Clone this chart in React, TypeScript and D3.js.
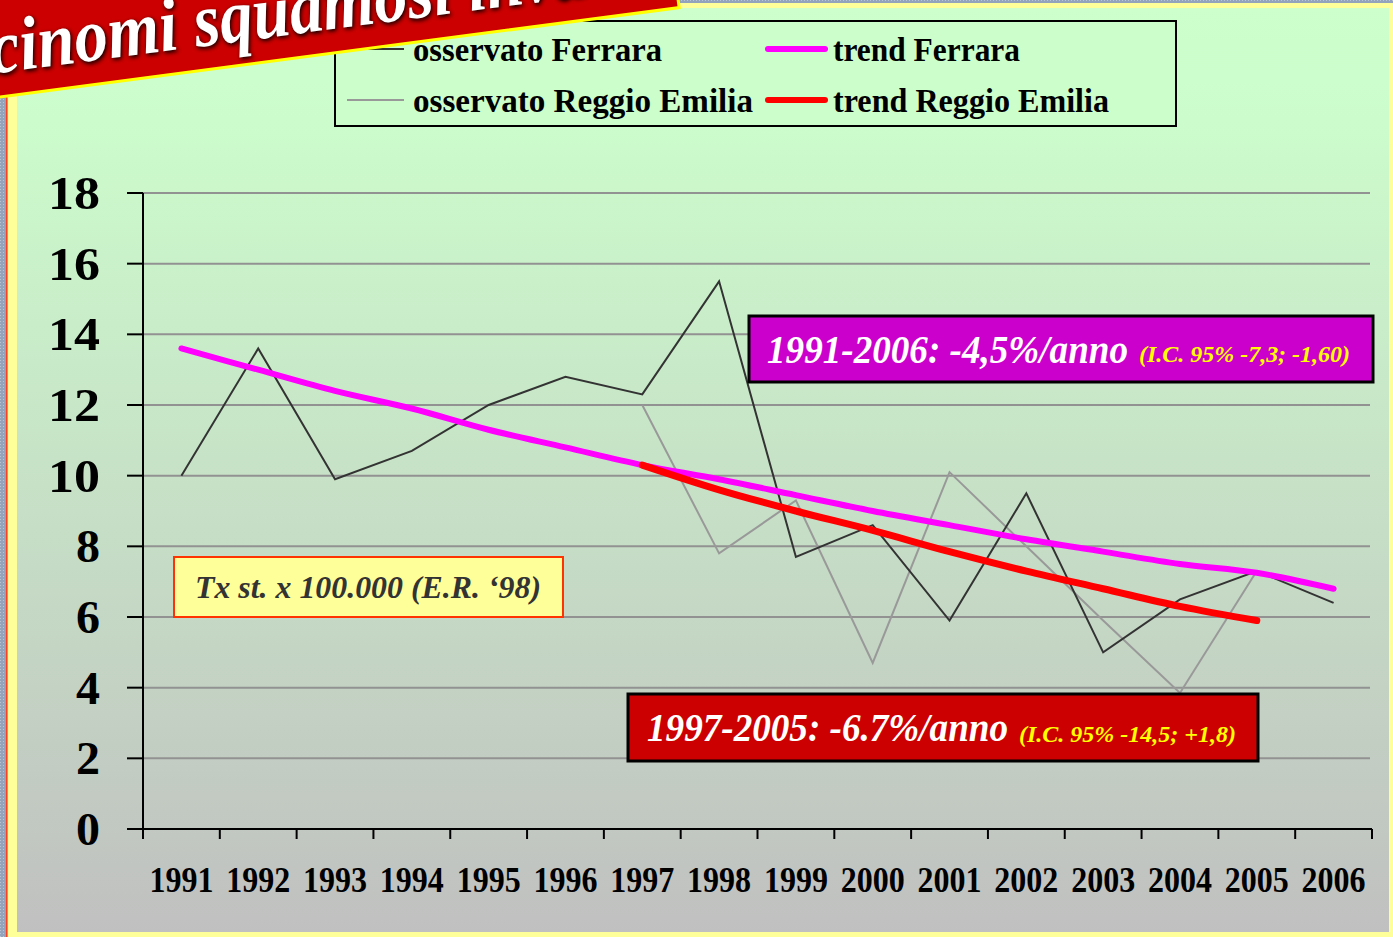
import React from 'react';
import * as d3 from 'd3';

const years = ['1991','1992','1993','1994','1995','1996','1997','1998','1999','2000','2001','2002','2003','2004','2005','2006'];
const ferraraObs = [10.0, 13.6, 9.9, 10.7, 12.0, 12.8, 12.3, 15.5, 7.7, 8.6, 5.9, 9.5, 5.0, 6.5, 7.3, 6.4];
const reggioYears = ['1997','1998','1999','2000','2001','2002','2003','2004','2005'];
const reggioObs = [12.0, 7.8, 9.3, 4.7, 10.1, 8.0, 5.9, 3.85, 7.3];
const trendFerrara = [13.6, 13.0, 12.4, 11.9, 11.3, 10.8, 10.3, 9.9, 9.45, 9.0, 8.6, 8.2, 7.85, 7.5, 7.25, 6.8];
const trendReggio = [10.3, 9.6, 9.0, 8.45, 7.85, 7.3, 6.8, 6.3, 5.9];
const yTicks = [0, 2, 4, 6, 8, 10, 12, 14, 16, 18];
const gridTicks = [2, 4, 6, 8, 10, 12, 14, 16, 18];

const legendItems = [
  { label: 'osservato Ferrara', color: '#333333', width: 2, col: 0, row: 0, len: 249 },
  { label: 'trend Ferrara', color: '#FF00FF', width: 6, col: 1, row: 0, len: 187 },
  { label: 'osservato Reggio Emilia', color: '#999999', width: 2, col: 0, row: 1, len: 340 },
  { label: 'trend Reggio Emilia', color: '#FF0000', width: 6, col: 1, row: 1, len: 276 },
];

const titleText = 'cinomi squamosi inva';

const W = 1393, H = 937;
const FONT = '"Liberation Serif", "Times New Roman", serif';

export default function App() {
  const x = d3.scaleBand<string>().domain(years).range([143, 1372]).paddingInner(0).paddingOuter(0);
  const y = d3.scaleLinear().domain([0, 18]).range([829, 193]);
  const cx = (yr: string) => (x(yr) as number) + x.bandwidth() / 2;

  const lineStraight = d3.line<[string, number]>().x(d => cx(d[0])).y(d => y(d[1]));
  const lineSmooth = d3.line<[string, number]>().x(d => cx(d[0])).y(d => y(d[1])).curve(d3.curveCatmullRom.alpha(0.5));

  const ferObsPts = years.map((yr, i) => [yr, ferraraObs[i]] as [string, number]);
  const regObsPts = reggioYears.map((yr, i) => [yr, reggioObs[i]] as [string, number]);
  const ferTrPts = years.map((yr, i) => [yr, trendFerrara[i]] as [string, number]);
  const regTrPts = reggioYears.map((yr, i) => [yr, trendReggio[i]] as [string, number]);

  const boundaries = [...years.map(yr => x(yr) as number), 1372];

  return (
    <svg width={W} height={H} style={{ position: 'absolute', left: 0, top: 0 }} xmlns="http://www.w3.org/2000/svg">
      <defs>
        <linearGradient id="panelGrad" x1="0" y1="0" x2="0" y2="1">
          <stop offset="0" stopColor="#CCFFCC" />
          <stop offset="0.12" stopColor="#CCFCCC" />
          <stop offset="1" stopColor="#C0C0C0" />
        </linearGradient>
        <pattern id="dots" width="3" height="3" patternUnits="userSpaceOnUse">
          <rect width="3" height="3" fill="#93A3BB" />
          <rect width="1" height="1" fill="#B8C4D4" />
        </pattern>
        <filter id="shadow" x="-10%" y="-30%" width="120%" height="160%">
          <feGaussianBlur stdDeviation="2.2" />
        </filter>
      </defs>

      {/* outer frame */}
      <rect x={0} y={0} width={W} height={H} fill="#FFFF99" />
      <rect x={0} y={0} width={6} height={H} fill="url(#dots)" />
      <rect x={0} y={0} width={W} height={3} fill="url(#dots)" />
      <line x1={6.8} y1={3} x2={6.8} y2={H} stroke="#FF4020" strokeWidth={1.6} />
      <rect x={17} y={8} width={1372} height={924} fill="url(#panelGrad)" />

      {/* gridlines */}
      {gridTicks.map(t => (
        <line key={'g' + t} x1={143} x2={1370} y1={y(t)} y2={y(t)} stroke="#929292" strokeWidth={2} />
      ))}

      {/* axes */}
      <line x1={143} x2={143} y1={y(18)} y2={y(0) + 1} stroke="#000" strokeWidth={2} />
      {yTicks.map(t => (
        <line key={'yt' + t} x1={127} x2={143} y1={y(t)} y2={y(t)} stroke="#000" strokeWidth={2} />
      ))}
      <line x1={127} x2={1372} y1={y(0)} y2={y(0)} stroke="#000" strokeWidth={2} />
      {boundaries.map((b, i) => (
        <line key={'xt' + i} x1={b} x2={b} y1={y(0)} y2={y(0) + 10} stroke="#000" strokeWidth={2} />
      ))}

      {/* y labels */}
      {yTicks.map(t => {
        const s = String(t);
        return (
          <text key={'yl' + t} x={100 - (s.length === 2 ? 52 : 24)} y={y(t) + 16} fontFamily={FONT} fontWeight="bold" fontSize={47} fill="#000"
            textLength={s.length === 2 ? 52 : 24} lengthAdjust="spacingAndGlyphs">
            {s}
          </text>
        );
      })}

      {/* x labels */}
      {years.map(yr => (
        <text key={'xl' + yr} x={cx(yr) - 32} y={892} fontFamily={FONT} fontWeight="bold" fontSize={35} fill="#000"
          textLength={64} lengthAdjust="spacingAndGlyphs">
          {yr}
        </text>
      ))}

      {/* series */}
      <path d={lineStraight(regObsPts) || ''} fill="none" stroke="#999999" strokeWidth={2} />
      <path d={lineStraight(ferObsPts) || ''} fill="none" stroke="#333333" strokeWidth={2} />
      <path d={lineSmooth(ferTrPts) || ''} fill="none" stroke="#FF00FF" strokeWidth={6} strokeLinecap="round" />
      <path d={lineSmooth(regTrPts) || ''} fill="none" stroke="#FF0000" strokeWidth={7} strokeLinecap="round" />

      {/* magenta annotation */}
      <rect x={749} y={316} width={624} height={66} fill="#CC00CC" stroke="#000" strokeWidth={3} />
      <text x={767} y={363} fontFamily={FONT} fontWeight="bold" fontStyle="italic" fontSize={39} fill="#FFFFFF"
        textLength={361} lengthAdjust="spacingAndGlyphs">1991-2006: -4,5%/anno</text>
      <text x={1139} y={362} fontFamily={FONT} fontWeight="bold" fontStyle="italic" fontSize={23} fill="#FFFF00"
        textLength={211} lengthAdjust="spacingAndGlyphs">(I.C. 95% -7,3; -1,60)</text>

      {/* red annotation */}
      <rect x={628} y={694} width={630} height={67} fill="#CC0000" stroke="#000" strokeWidth={3} />
      <text x={647} y={741} fontFamily={FONT} fontWeight="bold" fontStyle="italic" fontSize={40} fill="#FFFFFF"
        textLength={361} lengthAdjust="spacingAndGlyphs">1997-2005: -6.7%/anno</text>
      <text x={1019} y={742} fontFamily={FONT} fontWeight="bold" fontStyle="italic" fontSize={24} fill="#FFFF00"
        textLength={217} lengthAdjust="spacingAndGlyphs">(I.C. 95% -14,5; +1,8)</text>

      {/* yellow units box */}
      <rect x={174} y={557} width={389} height={60} fill="#FFFF99" stroke="#FF3300" strokeWidth={2} />
      <text x={195} y={598} fontFamily={FONT} fontWeight="bold" fontStyle="italic" fontSize={32} fill="#333333"
        textLength={346} lengthAdjust="spacingAndGlyphs">Tx st. x 100.000 (E.R. ‘98)</text>

      {/* legend */}
      <rect x={335} y={21} width={841} height={105} fill="#CCFECC" stroke="#000" strokeWidth={2} />
      {legendItems.map(it => {
        const lx = it.col === 0 ? 347 : 768;
        const tx = it.col === 0 ? 413 : 833;
        const ly = it.row === 0 ? 49 : 100;
        return (
          <g key={it.label}>
            <line x1={lx} x2={lx + 57} y1={ly} y2={ly} stroke={it.color} strokeWidth={it.width} strokeLinecap={it.width > 3 ? 'round' : 'butt'} />
            <text x={tx} y={ly + 12} fontFamily={FONT} fontWeight="bold" fontSize={33} fill="#000"
              textLength={it.len} lengthAdjust="spacingAndGlyphs">{it.label}</text>
          </g>
        );
      })}

      {/* title banner */}
      <g transform="translate(0,97) rotate(-7.5)">
        <rect x={-60} y={-160} width={745} height={160} fill="#CC0000" stroke="#FFFF00" strokeWidth={3} />
        <text x={-3} y={-22} fontFamily={FONT} fontWeight="bold" fontStyle="italic" fontSize={76} fill="#000" filter="url(#shadow)"
          textLength={600} lengthAdjust="spacingAndGlyphs">
          {titleText}
        </text>
        <text x={-4} y={-24} fontFamily={FONT} fontWeight="bold" fontStyle="italic" fontSize={76} fill="#FFFFFF"
          textLength={600} lengthAdjust="spacingAndGlyphs">
          {titleText}
        </text>
      </g>
    </svg>
  );
}
